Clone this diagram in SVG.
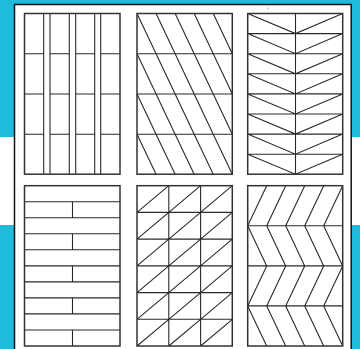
<svg xmlns="http://www.w3.org/2000/svg" width="360" height="349" viewBox="0 0 360 349">
<style>
.bg{fill:#20bbdc}
.frame{fill:none;stroke:#333;stroke-width:1.5}
.ln{fill:none;stroke:#2a2a2a;stroke-width:1.1}
.panel{fill:#fff;stroke:#111;stroke-width:1.5}
</style>
<rect width="360" height="349" fill="#fff"/>
<rect class="bg" x="0" y="0" width="360" height="4.5"/>
<rect class="bg" x="0" y="0" width="14" height="137"/>
<rect class="bg" x="352" y="0" width="8" height="137"/>
<rect class="bg" x="0" y="225" width="14" height="124"/>
<rect class="bg" x="352" y="225" width="8" height="124"/>
<path class="panel" d="M14.5,350 V4.5 H351.2 V350 Z"/>
<circle cx="267.7" cy="8.3" r="0.7" fill="#999"/>

<g id="planks-stacked">
<path class="ln" d="M43.7,13.5V174.2M50,13.5V174.2M69.3,13.5V174.2M75.7,13.5V174.2M94.7,13.5V174.2M100.7,13.5V174.2
M24.5,53.7H43.7M50,53.7H69.3M75.7,53.7H94.7M100.7,53.7H120
M24.5,94H43.7M50,94H69.3M75.7,94H94.7M100.7,94H120
M24.5,134.2H43.7M50,134.2H69.3M75.7,134.2H94.7M100.7,134.2H120"/>
<rect class="frame" x="24.5" y="13.5" width="95.5" height="160.7"/>
</g>

<g id="diagonal-rows">
<path class="ln" d="M137,53.7H232.3M137,94H232.3M137,134.2H232.3
M137,13.5L156.06,53.7M156.06,13.5L175.12,53.7M175.12,13.5L194.18,53.7M194.18,13.5L213.24,53.7M213.24,13.5L232.3,53.7
M137,53.7L156.06,94M156.06,53.7L175.12,94M175.12,53.7L194.18,94M194.18,53.7L213.24,94M213.24,53.7L232.3,94
M137,94L156.06,134.2M156.06,94L175.12,134.2M175.12,94L194.18,134.2M194.18,94L213.24,134.2M213.24,94L232.3,134.2
M137,134.2L156.06,174.2M156.06,134.2L175.12,174.2M175.12,134.2L194.18,174.2M194.18,134.2L213.24,174.2M213.24,134.2L232.3,174.2"/>
<rect class="frame" x="137" y="13.5" width="95.3" height="160.7"/>
</g>

<g id="chevron-vertical">
<path class="ln" d="M295.5,13.5V174.2
M247.7,33.6H342.7M247.7,53.7H342.7M247.7,73.8H342.7M247.7,93.9H342.7M247.7,114H342.7M247.7,134.1H342.7M247.7,154.2H342.7
M247.7,13.5L295.5,33.6L342.7,13.5
M247.7,33.6L295.5,53.7L342.7,33.6
M247.7,53.7L295.5,73.8L342.7,53.7
M247.7,73.8L295.5,93.9L342.7,73.8
M247.7,93.9L295.5,114L342.7,93.9
M247.7,114L295.5,134.1L342.7,114
M247.7,134.1L295.5,154.2L342.7,134.1
M247.7,154.2L295.5,174.2L342.7,154.2"/>
<rect class="frame" x="247.7" y="13.5" width="95" height="160.7"/>
</g>

<g id="planks-staggered">
<path class="ln" d="M24.5,201.7H120M24.5,217.8H120M24.5,233.8H120M24.5,249.8H120M24.5,265.9H120M24.5,281.9H120M24.5,297.9H120M24.5,313.9H120M24.5,330H120
M72.5,201.7V217.8M72.5,233.8V249.8M72.5,265.9V281.9M72.5,297.9V313.9M72.5,330V346"/>
<rect class="frame" x="24.5" y="185.7" width="95.5" height="160.3"/>
</g>

<g id="triangle-grid">
<path class="ln" d="M168.8,185.7V346M200.6,185.7V346
M137,212.4H232.3M137,239.1H232.3M137,265.9H232.3M137,292.6H232.3M137,319.3H232.3
M137,212.4L168.8,185.7M168.8,212.4L200.6,185.7M200.6,212.4L232.3,185.7
M137,239.1L168.8,212.4M168.8,239.1L200.6,212.4M200.6,239.1L232.3,212.4
M137,265.9L168.8,239.1M168.8,265.9L200.6,239.1M200.6,265.9L232.3,239.1
M137,292.6L168.8,265.9M168.8,292.6L200.6,265.9M200.6,292.6L232.3,265.9
M137,319.3L168.8,292.6M168.8,319.3L200.6,292.6M200.6,319.3L232.3,292.6
M137,346L168.8,319.3M168.8,346L200.6,319.3M200.6,346L232.3,319.3"/>
<rect class="frame" x="137" y="185.7" width="95.3" height="160.3"/>
</g>

<g id="zigzag">
<path class="ln" d="M247.7,225.8H342.7M247.7,265.9H342.7M247.7,305.9H342.7
M247.7,225.8L266.7,185.7M266.7,225.8L285.7,185.7M285.7,225.8L304.7,185.7M304.7,225.8L323.7,185.7M323.7,225.8L342.7,185.7
M247.7,225.8L266.7,265.9M266.7,225.8L285.7,265.9M285.7,225.8L304.7,265.9M304.7,225.8L323.7,265.9M323.7,225.8L342.7,265.9
M266.7,265.9L247.7,305.9M285.7,265.9L266.7,305.9M304.7,265.9L285.7,305.9M323.7,265.9L304.7,305.9M342.7,265.9L323.7,305.9
M247.7,305.9L266.7,346M266.7,305.9L285.7,346M285.7,305.9L304.7,346M304.7,305.9L323.7,346M323.7,305.9L342.7,346"/>
<rect class="frame" x="247.7" y="185.7" width="95" height="160.3"/>
</g>
</svg>
